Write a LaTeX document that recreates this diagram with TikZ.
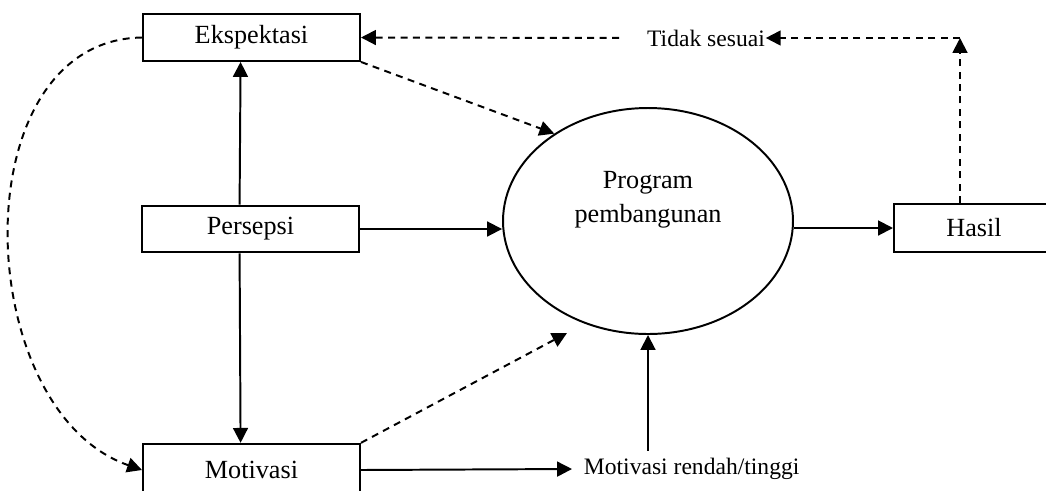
\documentclass[tikz,border=0pt]{standalone}
\usepackage{fontspec}
\setmainfont{Liberation Serif}
\usetikzlibrary{arrows.meta,shapes.geometric}

\begin{document}
\begin{tikzpicture}[%
    x=0.458pt, y=-0.458pt,
    >={Triangle[length=6.8pt,width=6.8pt]},
    line width=0.9pt,
    box/.style={draw, minimum width=99.4pt, minimum height=21.5pt,
      inner sep=0pt, font=\fontsize{12}{14}\selectfont},
    lbl/.style={inner xsep=5pt, inner ysep=3pt,
      font=\fontsize{10.8}{13}\selectfont},
    dsh/.style={dash pattern=on 3.2pt off 2.5pt},
  ]
    \useasboundingbox (0,0) rectangle (1046,490);

    \node[box] (eksp) at (251.5,37.5) {Ekspektasi};
    \node[box] (pers) at (250.5,229)  {Persepsi};
    \node[box, minimum height=24pt] (mot) at (251.5,470) {Motivasi};
    \node[box, minimum width=73.3pt, minimum height=22pt] (hasil) at (974,228) {Hasil};
    \node[draw, ellipse, minimum width=132.8pt, minimum height=103.5pt,
      inner sep=0pt] (prog) at (648,221) {};
    \node[align=center, font=\fontsize{12}{15.6}\selectfont] (progtxt) at (648,200)
      {Program\\pembangunan};
    \node[lbl, inner sep=0pt] (tidak) at (706,38) {Tidak sesuai};
    \node[lbl, anchor=west] (rendah) at (572,469) {Motivasi rendah/tinggi};
    \coordinate (belok) at (960,38);
    \coordinate (ujung) at (567,333);

    % solid arrows
    \draw[->] ([xshift=-5pt]pers.north) -- ([xshift=-5pt]eksp.south);
    \draw[->] ([xshift=-5pt]pers.south) -- ([xshift=-5pt]mot.north);
    \draw[->] (pers.east) -- (pers.east -| prog.west);
    \draw[->] (prog.east |- hasil.west) -- (hasil.west);
    \draw[->] (mot.east) -- (rendah.west);
    \draw[->] (rendah.north -| prog.south) -- (prog.south);

    % dashed arrows
    \draw[dsh,->] (eksp.south east) -- (prog.137);
    \draw[dsh,->] (mot.north east) -- (ujung);
    \draw[dsh,->] (belok |- hasil.north) -- (belok);
    \draw[dsh,->] (belok) -- (tidak.east);
    \draw[dsh,->,shorten <=12.4pt] (tidak.west) -- (eksp.east);
    \draw[dsh,->] (eksp.west) .. controls (-40,40) and (-30,410) .. (mot.west);
  \end{tikzpicture}
\end{document}
